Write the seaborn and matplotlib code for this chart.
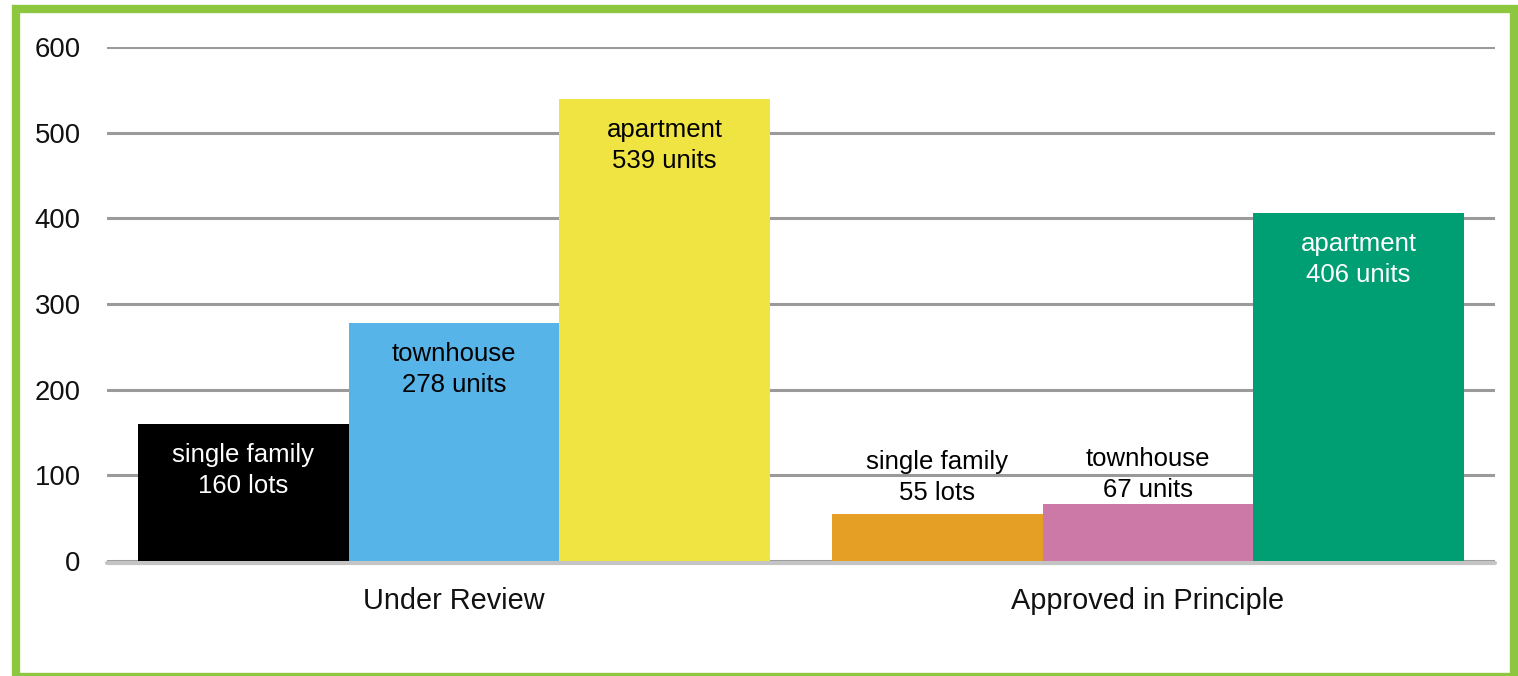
import matplotlib
matplotlib.use("Agg")
import matplotlib.pyplot as plt
import seaborn as sns
import pandas as pd
from matplotlib.patches import Rectangle

groups = ["Under Review", "Under Review", "Under Review",
          "Approved in Principle", "Approved in Principle", "Approved in Principle"]
types = ["single family", "townhouse", "apartment",
         "single family", "townhouse", "apartment"]
values = [160, 278, 539, 55, 67, 406]
units = ["lots", "units", "units", "lots", "units", "units"]
bar_colors = ["#000000", "#56b4e9", "#f0e442", "#e69f25", "#cc79a7", "#009e73"]
text_colors = ["white", "black", "black", "black", "black", "white"]
# label line offsets (points) relative to bar top
label_offsets = [(-22.5, -44.5), (-22.5, -44.5), (-22.5, -44.5),
                 (37.5, 15), (32, 9.5), (-22.5, -44.5)]
yticks = [0, 100, 200, 300, 400, 500, 600]

df = pd.DataFrame({"group": groups, "type": types, "value": values})

sns.set_theme(style="white")
plt.rcParams["font.family"] = ["Liberation Sans", "DejaVu Sans"]

fig = plt.figure(figsize=(15.18, 6.76), dpi=100)
ax = fig.add_axes([0.0705, 0.170, 0.9143, 0.7605])

sns.barplot(data=df, x="group", y="value", hue="type",
            order=["Under Review", "Approved in Principle"],
            hue_order=["single family", "townhouse", "apartment"],
            width=0.911, gap=0, legend=False, ax=ax, zorder=3,
            linewidth=0, saturation=1)

bars = [p for p in ax.patches if p.get_height() > 0]
bars_sorted = sorted(bars, key=lambda p: p.get_x())
for p, c in zip(bars_sorted, bar_colors):
    p.set_facecolor(c)
    p.set_edgecolor("none")

for i, p in enumerate(bars_sorted):
    cx = p.get_x() + p.get_width() / 2
    top = values[i]
    l1 = types[i]
    l2 = f"{values[i]} {units[i]}"
    for txt, off in zip((l1, l2), label_offsets[i]):
        ax.annotate(txt, xy=(cx, top), xytext=(0, off), textcoords="offset points",
                    ha="center", va="center", fontsize=18.5, color=text_colors[i],
                    zorder=5)

ax.set_ylim(0, 600)
ax.set_xlim(-0.5, 1.5)
ax.set_yticks(yticks)
ax.set_yticklabels([str(v) for v in yticks])
ax.yaxis.grid(True, color="#9a9a9a", linewidth=2.2, zorder=0)
ax.set_axisbelow(True)
ax.axhline(-2.0, color="#c4c4c4", linewidth=3.0, zorder=2, clip_on=False)
for s in ax.spines.values():
    s.set_visible(False)
ax.tick_params(axis="y", length=0, pad=19, labelsize=19.8, labelcolor="#111111")
ax.tick_params(axis="x", length=0, pad=19, labelsize=20.8, labelcolor="#111111")
ax.set_xlabel("")
ax.set_ylabel("")

W, H = 1518, 676
fig.patches.append(Rectangle((16 / W, 1 - 677 / H), (1514 - 16) / W, (677 - 8.5) / H,
                             transform=fig.transFigure, fill=False,
                             edgecolor="#8dc63f", linewidth=6, zorder=10))

fig.savefig("out.png", dpi=100)
